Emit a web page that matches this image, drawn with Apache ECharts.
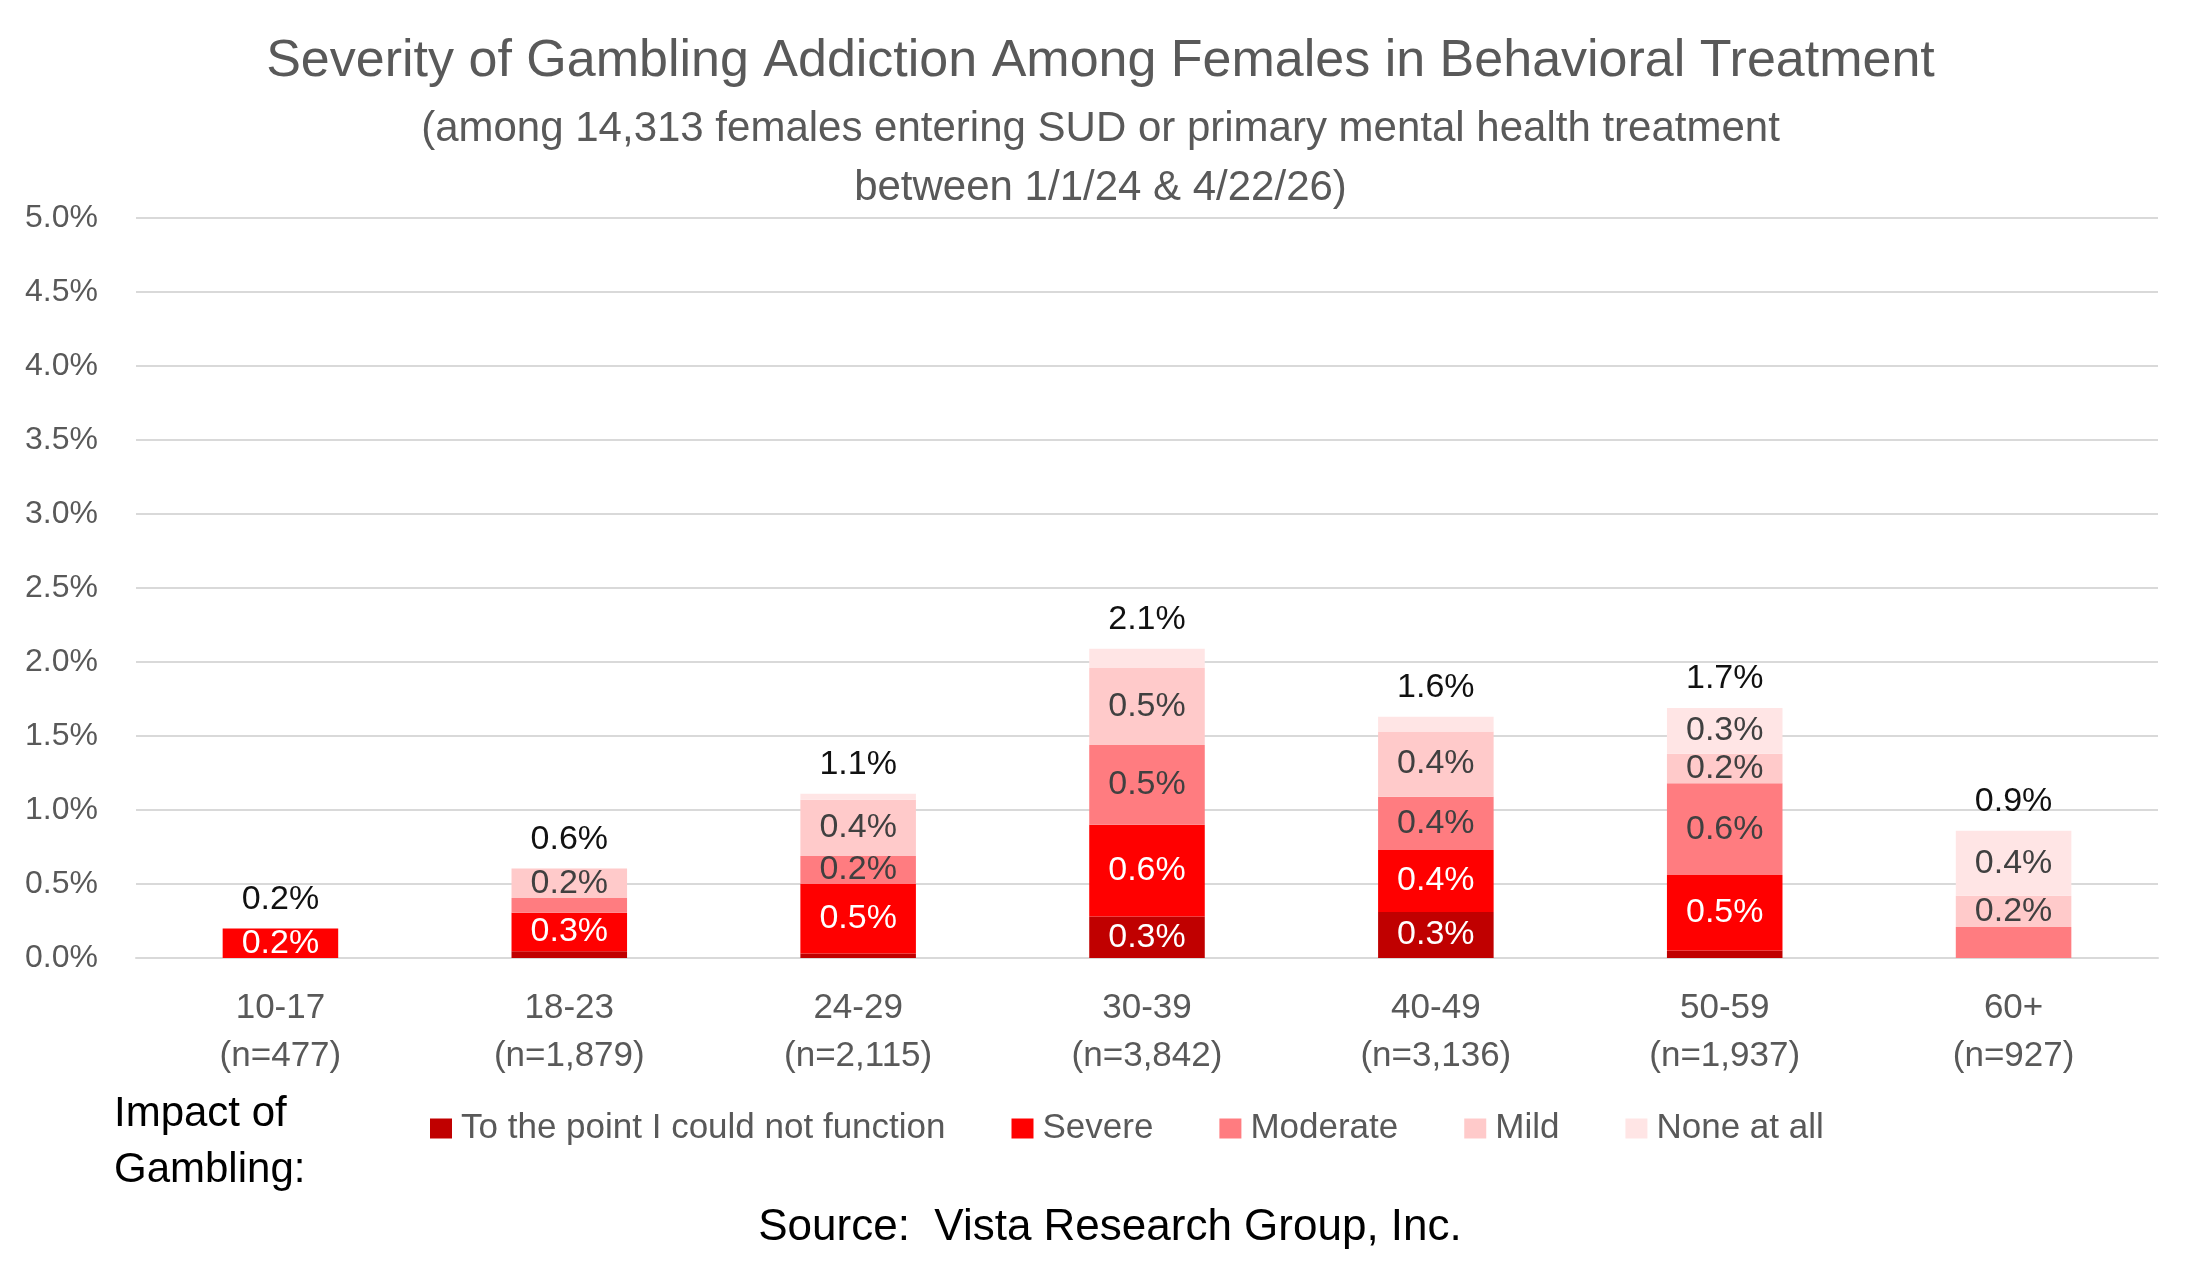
<!DOCTYPE html>
<html>
<head>
<meta charset="utf-8">
<script src="https://cdn.jsdelivr.net/npm/echarts@6/dist/echarts.min.js"></script>
<style>
html,body{margin:0;padding:0;background:#fff;}
#chart{width:2201px;height:1262px;}
</style>
</head>
<body>
<div id="chart"></div>
<script>
// ---- data (percent units) ----
const categories = ['10-17\n(n=477)', '18-23\n(n=1,879)', '24-29\n(n=2,115)', '30-39\n(n=3,842)', '40-49\n(n=3,136)', '50-59\n(n=1,937)', '60+\n(n=927)'];
const seriesNames = ['To the point I could not function', 'Severe', 'Moderate', 'Mild', 'None at all'];
const couldNotFunction = [0, 0.045, 0.03, 0.28, 0.31, 0.05, 0];
const severe          = [0.20, 0.26, 0.47, 0.62, 0.42, 0.51, 0];
const moderate        = [0, 0.10, 0.19, 0.54, 0.36, 0.62, 0.21];
const mild            = [0, 0.20, 0.38, 0.52, 0.44, 0.20, 0.21];
const noneAtAll       = [0, 0, 0.04, 0.13, 0.10, 0.31, 0.44];
const yTicks = ['0.0%', '0.5%', '1.0%', '1.5%', '2.0%', '2.5%', '3.0%', '3.5%', '4.0%', '4.5%', '5.0%'];
// labels the reference leaves off
const hiddenLabels = { 'Moderate': [6] };

// ---- styles ----
const colors = ['#C00000', '#FF0000', '#FF7C80', '#FFCACA', '#FFE5E5'];
const labelColors = ['#FFFFFF', '#FFFFFF', '#404040', '#404040', '#404040'];
const FONT = 'Liberation Sans';
const values = [couldNotFunction, severe, moderate, mild, noneAtAll];
const totals = categories.map((c, i) => values.reduce((s, arr) => s + arr[i], 0));

const series = seriesNames.map((name, si) => ({
  name: name,
  type: 'bar',
  stack: 'total',
  barWidth: '40%',
  itemStyle: { color: colors[si] },
  data: values[si].map((v, i) => {
    const hide = v < 0.15 || (hiddenLabels[name] || []).indexOf(i) >= 0;
    return { value: v, label: { show: !hide } };
  }),
  label: {
    show: true,
    position: 'inside',
    color: labelColors[si],
    fontFamily: FONT,
    fontSize: 34,
    formatter: p => p.value.toFixed(1) + '%'
  },
  emphasis: { disabled: true }
}));

series.push({
  name: 'Total',
  type: 'bar',
  stack: 'total',
  barWidth: '40%',
  itemStyle: { color: 'transparent' },
  data: categories.map(() => 0),
  label: {
    show: true,
    position: 'top',
    distance: 12,
    color: '#111111',
    fontFamily: FONT,
    fontSize: 34,
    formatter: p => totals[p.dataIndex].toFixed(1) + '%'
  },
  emphasis: { disabled: true }
});

const chart = echarts.init(document.getElementById('chart'), null, { renderer: 'canvas' });
chart.setOption({
  animation: false,
  backgroundColor: '#ffffff',
  title: [
    {
      text: 'Severity of Gambling Addiction Among Females in Behavioral Treatment',
      left: 'center',
      top: 25,
      textStyle: { fontFamily: FONT, fontSize: 52, fontWeight: 'normal', color: '#595959', lineHeight: 64 }
    },
    {
      text: '(among 14,313 females entering SUD or primary mental health treatment\nbetween 1/1/24 & 4/22/26)',
      left: 'center',
      top: 95,
      textStyle: { fontFamily: FONT, fontSize: 42, fontWeight: 'normal', color: '#595959', lineHeight: 59, align: 'center' }
    }
  ],
  grid: { left: 136, right: 43, top: 218, bottom: 304, containLabel: false },
  legend: {
    data: seriesNames,
    left: 425,
    top: 1106,
    itemWidth: 22,
    itemHeight: 20,
    itemGap: 66,
    icon: 'rect',
    textStyle: { fontFamily: FONT, fontSize: 35, color: '#595959', padding: [0, 0, 0, 4] },
    selectedMode: false
  },
  xAxis: {
    type: 'category',
    data: categories,
    axisLine: { show: true, lineStyle: { color: '#D9D9D9', width: 2 } },
    axisTick: { show: false },
    axisLabel: { fontFamily: FONT, fontSize: 35, color: '#595959', lineHeight: 48, margin: 26, interval: 0 }
  },
  yAxis: {
    type: 'value',
    min: 0,
    max: 5,
    interval: 0.5,
    axisLine: { show: false },
    axisTick: { show: false },
    splitLine: { lineStyle: { color: '#D9D9D9', width: 2 } },
    axisLabel: {
      fontFamily: FONT, fontSize: 32, color: '#595959', margin: 38,
      formatter: (v) => yTicks[Math.round(v / 0.5)]
    }
  },
  graphic: [
    {
      type: 'text',
      left: 114,
      top: 1086,
      style: { text: 'Impact of\nGambling:', fontFamily: FONT, fontSize: 42, fill: '#000000', lineHeight: 56 }
    },
    {
      type: 'text',
      x: 1110,
      y: 1228,
      style: { text: 'Source:  Vista Research Group, Inc.', fontFamily: FONT, fontSize: 44, fill: '#000000', align: 'center', verticalAlign: 'middle' }
    }
  ],
  series: series
});
</script>
</body>
</html>
